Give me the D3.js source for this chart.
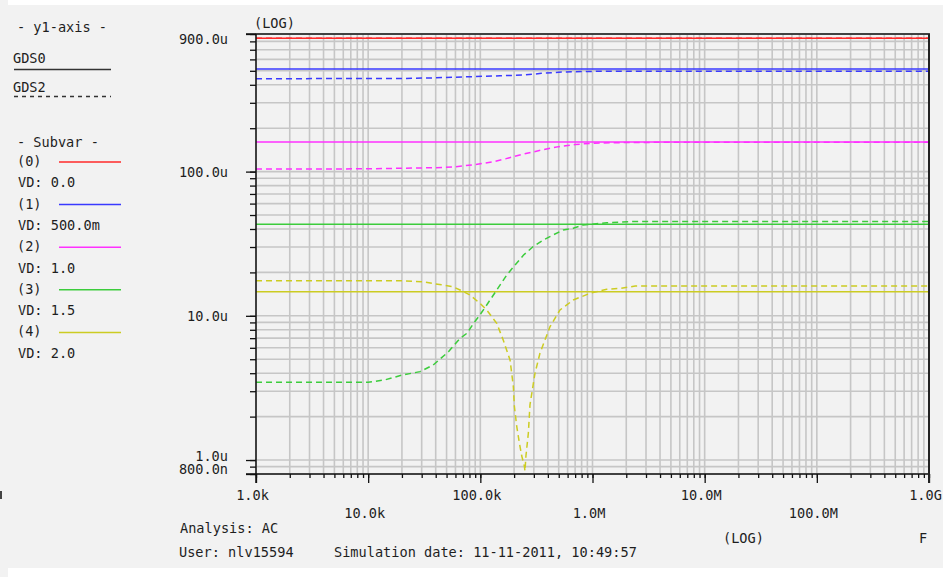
<!DOCTYPE html>
<html>
<head>
<meta charset="utf-8">
<script src="https://cdn.jsdelivr.net/npm/d3@7"></script>
<style>
  html, body { margin: 0; padding: 0; background: #ffffff; }
  svg text { font-family: "DejaVu Sans Mono", monospace; font-size: 13.6px; fill: #1e1e1e; }
</style>
</head>
<body>
<svg id="chart" width="943" height="577"></svg>
<script>
// ---- Sweep definition -------------------------------------------------
const subvarNames = ["(0)", "(1)", "(2)", "(3)", "(4)"];
const vdLabels = ["VD: 0.0", "VD: 500.0m", "VD: 1.0", "VD: 1.5", "VD: 2.0"];
const seriesColors = ["#ff2a2a", "#3a3aff", "#ff30ff", "#3ccc3c", "#cccc22"];

// GDS0 is flat over the whole frequency sweep (one value per VD)
const gds0 = [841e-6, 515e-6, 160.4e-6, 43.1e-6, 14.7e-6];

// GDS2 versus frequency, one pair of arrays per VD
const gds2Freq0 = [1e3, 1e9];
const gds2Val0 = [841e-6, 841e-6];

const gds2Freq1 = [1e3, 20e3, 40e3, 80e3, 150e3, 250e3, 350e3, 500e3, 800e3, 2e6, 1e9];
const gds2Val1 = [441e-6, 442e-6, 447e-6, 455e-6, 462e-6, 468e-6, 480e-6, 489e-6, 495e-6, 497e-6, 497e-6];

const gds2Freq2 = [1e3, 10e3, 20e3, 40e3, 60e3, 90e3, 130e3, 170e3, 230e3, 350e3, 500e3, 700e3, 1e6, 2e6, 5e6, 1e9];
const gds2Val2 = [104.3e-6, 104.5e-6, 105.5e-6, 106.5e-6, 108e-6, 112e-6, 117e-6, 123e-6, 131e-6, 141e-6, 149e-6, 154e-6, 157.5e-6, 159e-6, 159.8e-6, 160e-6];

const gds2Freq3 = [1e3, 10e3, 14e3, 20e3, 29e3, 38e3, 52e3, 66e3, 76e3, 87e3, 99e3, 114e3, 134e3, 172e3, 204e3, 243e3, 297e3, 364e3, 447e3, 549e3, 674e3, 826e3, 1.34e6, 2.2e6, 1e9];
const gds2Val3 = [3.46e-6, 3.46e-6, 3.59e-6, 3.88e-6, 4.10e-6, 4.56e-6, 5.64e-6, 6.98e-6, 7.57e-6, 8.87e-6, 10.13e-6, 11.89e-6, 14.33e-6, 19.19e-6, 22.5e-6, 26.4e-6, 30.26e-6, 33.56e-6, 36.4e-6, 39.4e-6, 40.5e-6, 42.6e-6, 44.2e-6, 45.0e-6, 45.0e-6];

const gds2Freq4 = [1e3, 19e3, 30e3, 45e3, 57e3, 66e3, 81e3, 99e3, 114e3, 140e3, 160e3, 184e3, 197e3, 201e3, 211e3, 223e3, 234e3, 247e3, 250e3, 255e3, 268e3, 277e3, 307e3, 340e3, 418e3, 513e3, 674e3, 950e3, 1.34e6, 1.8e6, 2.4e6, 1e9];
const gds2Val4 = [17.52e-6, 17.52e-6, 17.25e-6, 16.4e-6, 15.9e-6, 15.1e-6, 13.94e-6, 12.22e-6, 10.98e-6, 8.88e-6, 6.79e-6, 4.94e-6, 3.23e-6, 2.37e-6, 1.72e-6, 1.31e-6, 1.066e-6, 0.908e-6, 0.839e-6, 1.066e-6, 1.54e-6, 2.41e-6, 3.99e-6, 5.50e-6, 8.41e-6, 10.98e-6, 12.88e-6, 14.33e-6, 15.27e-6, 15.5e-6, 16.1e-6, 16.1e-6];

// ---- Axis labels ------------------------------------------------------
const xTickValues = [1e3, 1e4, 1e5, 1e6, 1e7, 1e8, 1e9];
const xTickLabels = ["1.0k", "10.0k", "100.0k", "1.0M", "10.0M", "100.0M", "1.0G"];
const yTickValues = [900e-6, 100e-6, 10e-6, 1e-6, 800e-9];
const yTickLabels = ["900.0u", "100.0u", "10.0u", "1.0u", "800.0n"];

// ---- Layout -----------------------------------------------------------
const W = 943, H = 577;
const plot = { left: 256, right: 929, top: 34, bottom: 474 };

const svg = d3.select("#chart");

// window background
svg.append("rect").attr("x", 0).attr("y", 0).attr("width", W).attr("height", H).attr("fill", "#ffffff");
svg.append("rect").attr("x", 0).attr("y", 5).attr("width", W).attr("height", 563).attr("fill", "#f2f2f2");
svg.append("rect").attr("x", 0).attr("y", 0).attr("width", 8).attr("height", H).attr("fill", "#f2f2f2");
svg.append("rect").attr("x", 0).attr("y", 491).attr("width", 2).attr("height", 8).attr("fill", "#444");

const x = d3.scaleLog().domain([1e3, 1e9]).range([plot.left, plot.right]);
const y = d3.scaleLog().domain([800e-9, 900e-6]).range([plot.bottom, plot.top]);

// all 1..9 x 10^k values inside a log domain
function logSteps(lo, hi) {
  const out = [];
  const k0 = Math.floor(Math.log10(lo)), k1 = Math.ceil(Math.log10(hi));
  for (let k = k0; k <= k1; k++) {
    for (let m = 1; m <= 9; m++) {
      const v = m * Math.pow(10, k);
      if (v >= lo * 0.999 && v <= hi * 1.001) out.push(v);
    }
  }
  return out;
}
const xMinor = logSteps(1e3, 1e9);
const yMinor = logSteps(800e-9, 900e-6);

// ---- Grid -------------------------------------------------------------
const grid = svg.append("g").attr("stroke", "#c6c6c6").attr("stroke-width", 1.6);
grid.selectAll("line.gx").data(xMinor).join("line")
  .attr("x1", d => x(d)).attr("x2", d => x(d))
  .attr("y1", plot.top).attr("y2", plot.bottom);
grid.selectAll("line.gy").data(yMinor).join("line")
  .attr("x1", plot.left).attr("x2", plot.right)
  .attr("y1", d => y(d)).attr("y2", d => y(d));

// ---- Curves -----------------------------------------------------------
const line = d3.line().x(d => x(d[0])).y(d => y(d[1]));
const curves = svg.append("g").attr("fill", "none").attr("stroke-width", 1.5);

const gds2Freqs = [gds2Freq0, gds2Freq1, gds2Freq2, gds2Freq3, gds2Freq4];
const gds2Vals = [gds2Val0, gds2Val1, gds2Val2, gds2Val3, gds2Val4];

gds0.forEach((v, i) => {
  curves.append("path")
    .attr("d", line([[1e3, v], [1e9, v]]))
    .attr("stroke", seriesColors[i]);
});
gds2Freqs.forEach((fs, i) => {
  curves.append("path")
    .attr("d", line(fs.map((f, j) => [f, gds2Vals[i][j]])))
    .attr("stroke", seriesColors[i])
    .attr("stroke-dasharray", "6,4");
});

// ---- Axes -------------------------------------------------------------
function styleAxis(g) {
  g.select(".domain").remove();
  g.attr("font-family", null).attr("font-size", null);
  g.selectAll(".tick line").attr("stroke", "#111").attr("stroke-width", 1.3);
}

// x axis: minor then labelled decades
svg.append("g").attr("transform", `translate(0,${plot.bottom})`)
  .call(d3.axisBottom(x).tickValues(xMinor).tickSize(4).tickFormat(""))
  .call(styleAxis);
const xAxis = svg.append("g").attr("transform", `translate(0,${plot.bottom})`)
  .call(d3.axisBottom(x).tickValues(xTickValues).tickSize(9).tickPadding(7.3)
    .tickFormat((d, i) => xTickLabels[i]))
  .call(styleAxis);
xAxis.selectAll(".tick text")
  .attr("fill", null)
  .attr("dx", -4)
  .attr("y", (d, i) => 16.3 + (i % 2 ? 18 : 0))
  .attr("dy", "0.71em");

// y axis
svg.append("g").attr("transform", `translate(${plot.left},0)`)
  .call(d3.axisLeft(y).tickValues(yMinor).tickSize(6).tickFormat(""))
  .call(styleAxis);
const yAxis = svg.append("g").attr("transform", `translate(${plot.left},0)`)
  .call(d3.axisLeft(y).tickValues(yTickValues).tickSize(10).tickPadding(18)
    .tickFormat((d, i) => yTickLabels[i]))
  .call(styleAxis);

// keep the end labels inside the axis span and push crowded ones upward
const baselines = yTickValues.map(v => Math.min(Math.max(y(v) + 4.5, plot.top + 9), plot.bottom - 1));
for (let i = baselines.length - 2; i >= 0; i--) {
  if (baselines[i + 1] - baselines[i] < 13) baselines[i] = baselines[i + 1] - 12.5;
}
yAxis.selectAll(".tick text")
  .attr("fill", null)
  .attr("dy", null)
  .attr("y", (d, i) => baselines[i] - y(d));

// frame
const frame = svg.append("g").attr("stroke", "#111").attr("fill", "none");
frame.append("line").attr("x1", plot.left - 10).attr("x2", plot.right + 1)
  .attr("y1", plot.top).attr("y2", plot.top).attr("stroke-width", 1.5);
frame.append("line").attr("x1", plot.left - 10).attr("x2", plot.right + 1)
  .attr("y1", plot.bottom).attr("y2", plot.bottom).attr("stroke-width", 1.5);
frame.append("line").attr("x1", plot.left).attr("x2", plot.left)
  .attr("y1", plot.top).attr("y2", plot.bottom + 9).attr("stroke-width", 1.5);
frame.append("line").attr("x1", plot.right).attr("x2", plot.right)
  .attr("y1", plot.top).attr("y2", plot.bottom + 9).attr("stroke-width", 2)
  .attr("stroke", "#222");

// axis captions
svg.append("text").attr("x", 254).attr("y", 28).text("(LOG)");
svg.append("text").attr("x", 723).attr("y", 543).text("(LOG)");
svg.append("text").attr("x", 919).attr("y", 543).text("F");
svg.append("text").attr("x", 180).attr("y", 533).text("Analysis: AC");
svg.append("text").attr("x", 179).attr("y", 557).text("User: nlv15594");
svg.append("text").attr("x", 334).attr("y", 557).text("Simulation date: 11-11-2011, 10:49:57");

// ---- Legend -----------------------------------------------------------
const legend = svg.append("g");
legend.append("text").attr("x", 17).attr("y", 32).text("- y1-axis -");
legend.append("text").attr("x", 13).attr("y", 63).text("GDS0");
legend.append("line").attr("x1", 14).attr("x2", 111).attr("y1", 69.5).attr("y2", 69.5)
  .attr("stroke", "#333").attr("stroke-width", 1.4);
legend.append("text").attr("x", 13).attr("y", 92).text("GDS2");
legend.append("line").attr("x1", 14).attr("x2", 111).attr("y1", 96.5).attr("y2", 96.5)
  .attr("stroke", "#333").attr("stroke-width", 1.4).attr("stroke-dasharray", "4,4");
legend.append("text").attr("x", 17).attr("y", 146.5).text("- Subvar -");

const rowStep = 21.3;
subvarNames.forEach((name, i) => {
  const base = 166 + i * 2 * rowStep;
  legend.append("text").attr("x", 17).attr("y", base).text(name);
  legend.append("line").attr("x1", 59).attr("x2", 121)
    .attr("y1", base - 4).attr("y2", base - 4)
    .attr("stroke", seriesColors[i]).attr("stroke-width", 1.5);
  legend.append("text").attr("x", 18).attr("y", base + rowStep).text(vdLabels[i]);
});
</script>
</body>
</html>
